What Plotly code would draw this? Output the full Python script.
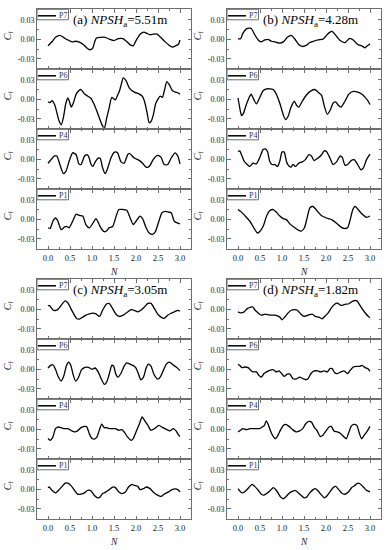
import plotly.graph_objects as go

# ---------------- data ----------------
N_TICKS = [0.0, 0.5, 1.0, 1.5, 2.0, 2.5, 3.0]
CF_TICKS = [-0.03, 0.0, 0.03]
CF_TICK_TEXT = ["-0.03", "0.00", "0.03"]
PROBES = ["P7", "P6", "P4", "P1"]
CASE_LABELS = ["(a)", "(b)", "(c)", "(d)"]
NPSH_VALUES = ["5.51", "4.28", "3.05", "1.82"]

# (a) NPSHa = 5.51 m
A_P7_X = [0, 0.1, 0.17, 0.27, 0.35, 0.45, 0.55, 0.62, 0.7, 0.8, 0.88, 0.95, 1.02, 1.06, 1.1, 1.2, 1.3, 1.4, 1.5, 1.6, 1.7, 1.8, 1.88, 1.94, 2.0, 2.1, 2.18, 2.25, 2.32, 2.4, 2.48, 2.56, 2.65, 2.75, 2.83, 2.9, 2.96, 3.0]
A_P7_Y = [-0.010, -0.003, 0.003, 0.006, 0.003, -0.001, -0.004, -0.003, -0.004, -0.008, -0.013, -0.016, -0.013, -0.004, 0.002, 0.003, 0.003, 0.0, -0.002, 0.001, 0.001, -0.004, -0.009, -0.010, -0.002, 0.008, 0.011, 0.009, 0.007, 0.008, 0.008, 0.003, -0.003, -0.009, -0.012, -0.010, -0.008, -0.001]
A_P6_X = [0, 0.05, 0.09, 0.15, 0.2, 0.25, 0.30, 0.35, 0.40, 0.45, 0.49, 0.53, 0.58, 0.64, 0.70, 0.75, 0.83, 0.9, 0.97, 1.05, 1.12, 1.17, 1.22, 1.28, 1.33, 1.39, 1.45, 1.53, 1.58, 1.62, 1.67, 1.71, 1.77, 1.85, 1.96, 2.08, 2.15, 2.2, 2.25, 2.3, 2.35, 2.4, 2.45, 2.55, 2.6, 2.65, 2.70, 2.76, 2.83, 2.9, 2.95, 3.0]
A_P6_Y = [-0.004, -0.005, -0.002, -0.008, -0.020, -0.033, -0.039, -0.028, -0.008, 0.002, -0.004, -0.012, -0.005, 0.008, 0.013, 0.015, 0.008, 0.005, 0.002, -0.008, -0.020, -0.029, -0.038, -0.045, -0.030, -0.013, 0.003, -0.001, 0.006, 0.012, 0.024, 0.033, 0.029, 0.017, 0.011, 0.008, 0.004, -0.005, -0.020, -0.036, -0.033, -0.022, -0.006, 0.005, 0.003, 0.015, 0.027, 0.022, 0.013, 0.011, 0.010, 0.008]
A_P4_X = [0, 0.04, 0.14, 0.2, 0.27, 0.35, 0.41, 0.48, 0.56, 0.64, 0.70, 0.75, 0.83, 0.88, 0.92, 0.98, 1.02, 1.08, 1.15, 1.19, 1.24, 1.30, 1.36, 1.43, 1.51, 1.58, 1.66, 1.73, 1.81, 1.85, 1.96, 2.08, 2.15, 2.23, 2.30, 2.39, 2.49, 2.57, 2.64, 2.72, 2.80, 2.89, 2.95, 3.0]
A_P4_Y = [-0.006, -0.003, 0.005, 0.005, -0.008, -0.022, -0.018, -0.003, 0.010, 0.007, -0.007, -0.008, 0.005, 0.007, 0.005, -0.008, -0.011, -0.003, 0.002, 0.001, -0.013, -0.022, -0.013, 0.002, 0.011, 0.010, -0.004, -0.006, 0.007, 0.009, 0.002, -0.002, -0.006, -0.012, -0.011, -0.0005, 0.006, 0.003, -0.008, -0.008, 0.002, 0.010, 0.005, -0.007]
A_P1_X = [0, 0.05, 0.11, 0.17, 0.22, 0.30, 0.37, 0.42, 0.48, 0.56, 0.64, 0.71, 0.79, 0.86, 0.94, 1.02, 1.09, 1.15, 1.2, 1.28, 1.33, 1.39, 1.47, 1.55, 1.61, 1.70, 1.79, 1.85, 1.94, 2.0, 2.09, 2.15, 2.23, 2.30, 2.38, 2.44, 2.52, 2.59, 2.67, 2.74, 2.80, 2.87, 2.95, 3.0]
A_P1_Y = [-0.013, -0.014, -0.003, 0.002, -0.002, -0.016, -0.012, -0.011, -0.013, -0.003, 0.008, 0.006, 0.005, -0.008, -0.013, -0.006, 0.001, -0.006, -0.013, -0.019, -0.018, -0.013, -0.011, 0.005, 0.015, 0.015, 0.014, 0.005, -0.008, -0.003, 0.005, 0.001, -0.013, -0.021, -0.023, -0.019, -0.003, 0.010, 0.012, 0.011, 0.010, -0.003, -0.006, -0.007]

# (b) NPSHa = 4.28 m
B_P7_X = [0, 0.06, 0.11, 0.19, 0.27, 0.31, 0.38, 0.46, 0.52, 0.61, 0.68, 0.76, 0.84, 0.95, 1.03, 1.12, 1.21, 1.29, 1.38, 1.46, 1.56, 1.63, 1.71, 1.82, 1.94, 2.01, 2.09, 2.14, 2.20, 2.32, 2.43, 2.54, 2.62, 2.72, 2.81, 2.89, 2.92, 2.98, 3.0]
B_P7_Y = [0.0005, 0.001, 0.009, 0.016, 0.017, 0.016, 0.007, -0.001, -0.004, -0.001, 0.0, -0.003, -0.004, -0.006, -0.004, 0.003, 0.006, 0.0005, -0.008, -0.011, -0.009, -0.005, -0.003, -0.001, 0.0005, 0.006, 0.011, 0.012, 0.008, -0.002, -0.005, 0.0015, -0.001, -0.008, -0.010, -0.013, -0.011, -0.008, -0.007]
B_P6_X = [0, 0.04, 0.08, 0.12, 0.19, 0.27, 0.30, 0.36, 0.42, 0.49, 0.57, 0.65, 0.72, 0.80, 0.87, 0.95, 1.03, 1.08, 1.14, 1.2, 1.28, 1.33, 1.38, 1.46, 1.56, 1.66, 1.75, 1.82, 1.9, 1.96, 2.03, 2.1, 2.16, 2.22, 2.28, 2.34, 2.43, 2.52, 2.62, 2.72, 2.81, 2.89, 2.95, 3.0]
B_P6_Y = [0.002, -0.013, -0.025, -0.022, -0.008, 0.005, 0.008, -0.0005, -0.007, 0.002, 0.013, 0.016, 0.016, 0.015, 0.008, -0.006, -0.024, -0.031, -0.026, -0.013, -0.003, -0.009, -0.012, -0.003, 0.007, 0.013, 0.015, 0.011, 0.006, -0.010, -0.023, -0.016, -0.006, -0.004, -0.009, -0.012, -0.003, 0.008, 0.012, 0.011, 0.008, 0.003, -0.002, -0.008]
B_P4_X = [0, 0.04, 0.08, 0.14, 0.21, 0.27, 0.34, 0.42, 0.49, 0.57, 0.62, 0.67, 0.72, 0.77, 0.84, 0.90, 0.95, 1.0, 1.05, 1.1, 1.14, 1.2, 1.25, 1.31, 1.38, 1.46, 1.53, 1.61, 1.67, 1.73, 1.82, 1.9, 1.96, 2.01, 2.09, 2.16, 2.24, 2.32, 2.37, 2.43, 2.49, 2.57, 2.64, 2.72, 2.79, 2.85, 2.92, 3.0]
B_P4_Y = [0.012, 0.013, 0.007, -0.003, -0.008, -0.011, -0.006, -0.007, 0.002, 0.015, 0.016, 0.012, -0.003, -0.008, -0.008, -0.011, -0.003, 0.011, 0.011, -0.003, -0.009, -0.012, -0.008, -0.011, -0.006, -0.004, -0.0005, 0.007, 0.005, -0.002, 0.002, 0.007, 0.013, 0.012, 0.002, -0.008, -0.004, 0.005, 0.003, -0.009, -0.008, -0.002, -0.0005, -0.008, -0.016, -0.013, -0.0005, 0.008]
B_P1_X = [0, 0.08, 0.15, 0.27, 0.36, 0.44, 0.49, 0.57, 0.65, 0.72, 0.80, 0.87, 0.95, 1.03, 1.1, 1.18, 1.29, 1.38, 1.44, 1.51, 1.57, 1.63, 1.69, 1.75, 1.82, 1.91, 2.01, 2.13, 2.24, 2.34, 2.41, 2.49, 2.55, 2.61, 2.66, 2.73, 2.82, 2.92, 3.0]
B_P1_Y = [0.015, 0.011, 0.006, -0.003, -0.013, -0.021, -0.019, -0.011, 0.005, 0.013, 0.015, 0.011, 0.005, 0.001, -0.0005, -0.007, -0.013, -0.017, -0.018, -0.013, 0.002, 0.017, 0.020, 0.017, 0.011, 0.005, 0.002, -0.0005, -0.006, -0.012, -0.014, -0.013, -0.0005, 0.015, 0.020, 0.015, 0.008, 0.003, 0.005]

# (c) NPSHa = 3.05 m
C_P7_X = [0, 0.03, 0.07, 0.12, 0.18, 0.24, 0.32, 0.39, 0.45, 0.52, 0.60, 0.65, 0.71, 0.79, 0.86, 0.94, 1.02, 1.09, 1.17, 1.24, 1.33, 1.39, 1.47, 1.55, 1.62, 1.71, 1.81, 1.89, 1.96, 2.04, 2.11, 2.19, 2.27, 2.34, 2.42, 2.49, 2.57, 2.64, 2.72, 2.80, 2.87, 2.95, 3.0]
C_P7_Y = [0.005, 0.006, 0.0025, -0.0015, -0.0015, 0.001, 0.008, 0.013, 0.010, 0.001, -0.009, -0.014, -0.015, -0.012, -0.009, -0.007, -0.006, -0.007, -0.011, -0.0015, 0.008, 0.009, 0.001, -0.008, -0.011, -0.009, -0.004, -0.0005, -0.0015, -0.004, -0.0015, 0.0035, 0.009, 0.009, 0.001, -0.007, -0.012, -0.014, -0.009, -0.006, -0.004, -0.0015, -0.003]
C_P6_X = [0, 0.06, 0.11, 0.17, 0.23, 0.30, 0.36, 0.42, 0.47, 0.52, 0.57, 0.63, 0.69, 0.76, 0.84, 0.92, 1.0, 1.07, 1.14, 1.2, 1.28, 1.33, 1.39, 1.45, 1.49, 1.54, 1.59, 1.66, 1.73, 1.79, 1.86, 1.93, 1.99, 2.05, 2.11, 2.17, 2.23, 2.28, 2.34, 2.41, 2.49, 2.55, 2.62, 2.69, 2.76, 2.84, 2.92, 3.0]
C_P6_Y = [0.002, 0.006, 0.007, 0.0, -0.011, -0.018, -0.010, 0.006, 0.011, 0.006, -0.008, -0.018, -0.013, -0.001, 0.003, 0.003, 0.0, 0.002, -0.004, -0.013, -0.023, -0.020, -0.008, 0.006, 0.005, -0.007, -0.012, -0.006, 0.005, 0.010, 0.008, 0.006, 0.003, -0.006, -0.016, -0.012, 0.002, 0.008, 0.005, -0.008, -0.015, -0.012, -0.002, 0.008, 0.011, 0.007, 0.003, -0.002]
C_P4_X = [0, 0.05, 0.11, 0.17, 0.22, 0.30, 0.37, 0.45, 0.52, 0.60, 0.67, 0.75, 0.83, 0.88, 0.94, 1.0, 1.05, 1.11, 1.17, 1.22, 1.28, 1.33, 1.39, 1.45, 1.53, 1.61, 1.68, 1.73, 1.81, 1.89, 1.94, 2.0, 2.08, 2.14, 2.19, 2.27, 2.34, 2.42, 2.52, 2.61, 2.70, 2.77, 2.85, 2.91, 2.97, 3.0]
C_P4_Y = [-0.014, -0.017, -0.012, 0.001, 0.0035, 0.0025, 0.001, 0.001, -0.0015, -0.004, -0.0025, 0.0025, 0.0045, 0.004, -0.007, -0.014, -0.015, -0.012, -0.0005, 0.008, 0.0025, 0.0025, 0.001, 0.001, 0.001, -0.0015, -0.0005, -0.004, -0.012, -0.017, -0.014, -0.004, 0.009, 0.019, 0.014, 0.006, -0.0015, 0.001, 0.006, 0.0025, -0.0005, -0.0025, 0.001, -0.0025, -0.009, -0.011]
C_P1_X = [0, 0.03, 0.09, 0.17, 0.24, 0.32, 0.39, 0.45, 0.52, 0.60, 0.67, 0.75, 0.83, 0.90, 0.98, 1.05, 1.13, 1.18, 1.24, 1.32, 1.39, 1.47, 1.53, 1.61, 1.68, 1.76, 1.83, 1.91, 1.96, 2.04, 2.09, 2.17, 2.24, 2.32, 2.39, 2.49, 2.57, 2.64, 2.74, 2.82, 2.89, 2.95, 3.0]
C_P1_Y = [0.0025, 0.0035, -0.0015, -0.0055, -0.0015, 0.0045, 0.0095, 0.0095, 0.006, -0.0015, -0.0075, -0.0075, -0.0055, -0.0015, -0.0025, -0.009, -0.013, -0.012, -0.0065, -0.004, -0.0005, 0.0035, 0.0025, -0.004, -0.0065, -0.004, 0.0035, 0.0075, 0.006, 0.0045, -0.0005, 0.001, 0.0035, 0.001, -0.004, -0.009, -0.011, -0.0075, -0.004, -0.0005, 0.0005, -0.0005, -0.004]

# (d) NPSHa = 1.82 m
D_P7_X = [0, 0.06, 0.14, 0.21, 0.29, 0.34, 0.39, 0.46, 0.53, 0.62, 0.72, 0.84, 0.95, 1.0, 1.06, 1.14, 1.21, 1.29, 1.35, 1.43, 1.50, 1.59, 1.69, 1.76, 1.84, 1.91, 1.97, 2.05, 2.11, 2.19, 2.26, 2.34, 2.43, 2.52, 2.62, 2.70, 2.75, 2.82, 2.90, 2.98, 3.0]
D_P7_Y = [-0.004, -0.0055, -0.004, 0.001, 0.0035, 0.0035, -0.0015, -0.0055, -0.009, -0.0075, -0.009, -0.009, -0.012, -0.016, -0.012, -0.0055, -0.0015, -0.0005, -0.0015, -0.0075, -0.011, -0.009, -0.0075, -0.011, -0.012, -0.0145, -0.011, -0.0055, 0.001, 0.0075, 0.0095, 0.006, 0.0075, 0.0085, 0.013, 0.013, 0.0085, 0.001, -0.0065, -0.012, -0.013]
D_P6_X = [0, 0.04, 0.09, 0.15, 0.23, 0.29, 0.34, 0.42, 0.47, 0.53, 0.59, 0.65, 0.72, 0.80, 0.87, 0.93, 0.99, 1.05, 1.12, 1.18, 1.25, 1.33, 1.40, 1.48, 1.54, 1.59, 1.66, 1.73, 1.81, 1.88, 1.96, 2.03, 2.09, 2.14, 2.20, 2.26, 2.34, 2.41, 2.49, 2.54, 2.62, 2.70, 2.77, 2.82, 2.89, 2.95, 3.0]
D_P6_Y = [0.0075, 0.006, 0.0025, 0.0035, 0.0025, -0.0015, -0.004, -0.004, -0.009, -0.012, -0.0065, -0.004, -0.0015, -0.0005, -0.004, -0.0025, -0.0065, -0.011, -0.0075, -0.0075, -0.0145, -0.0145, -0.012, -0.0145, -0.016, -0.0145, -0.0065, -0.0025, -0.0025, -0.004, -0.0025, -0.004, 0.001, 0.001, -0.0055, -0.0065, -0.004, -0.0025, -0.0065, -0.0025, 0.0035, 0.0045, 0.0045, 0.006, 0.0025, 0.001, -0.003]
D_P4_X = [0, 0.06, 0.11, 0.19, 0.27, 0.34, 0.42, 0.49, 0.55, 0.60, 0.64, 0.68, 0.74, 0.80, 0.85, 0.91, 0.97, 1.03, 1.08, 1.16, 1.24, 1.32, 1.40, 1.47, 1.54, 1.61, 1.67, 1.73, 1.80, 1.87, 1.93, 2.0, 2.07, 2.12, 2.18, 2.26, 2.33, 2.40, 2.46, 2.51, 2.57, 2.63, 2.70, 2.76, 2.81, 2.87, 2.94, 3.0]
D_P4_Y = [-0.004, -0.0015, 0.001, -0.0005, 0.001, 0.001, 0.001, 0.001, 0.0035, 0.006, 0.013, 0.0085, -0.0025, -0.011, -0.0145, -0.009, -0.0005, 0.006, 0.0075, 0.0045, -0.0005, -0.004, -0.0025, 0.001, 0.0085, 0.012, 0.011, 0.0035, -0.0025, -0.011, -0.009, -0.0025, 0.0035, 0.0045, -0.0025, -0.004, -0.0065, -0.011, -0.0145, -0.0065, 0.0045, 0.0075, 0.006, -0.0065, -0.0145, -0.009, -0.0025, 0.0045]
D_P1_X = [0, 0.06, 0.11, 0.19, 0.27, 0.32, 0.38, 0.46, 0.53, 0.59, 0.67, 0.74, 0.80, 0.85, 0.91, 0.97, 1.03, 1.08, 1.14, 1.21, 1.29, 1.35, 1.43, 1.50, 1.56, 1.63, 1.71, 1.76, 1.82, 1.90, 1.96, 2.01, 2.09, 2.16, 2.22, 2.29, 2.37, 2.43, 2.51, 2.58, 2.66, 2.72, 2.77, 2.85, 2.92, 3.0]
D_P1_Y = [0.001, -0.004, -0.0055, -0.0015, 0.0045, 0.0075, 0.0045, -0.0015, -0.0075, -0.009, -0.0055, -0.0015, 0.0025, 0.0, -0.0055, -0.012, -0.0145, -0.012, -0.0075, -0.004, -0.0015, -0.004, -0.009, -0.013, -0.012, -0.0055, -0.0005, 0.001, -0.0025, -0.009, -0.013, -0.011, -0.004, 0.0025, 0.0045, -0.0005, -0.0065, -0.0075, -0.004, 0.0025, 0.006, 0.0095, 0.0085, 0.0035, -0.0015, -0.004]

SERIES = [
    [(A_P7_X, A_P7_Y), (A_P6_X, A_P6_Y), (A_P4_X, A_P4_Y), (A_P1_X, A_P1_Y)],
    [(B_P7_X, B_P7_Y), (B_P6_X, B_P6_Y), (B_P4_X, B_P4_Y), (B_P1_X, B_P1_Y)],
    [(C_P7_X, C_P7_Y), (C_P6_X, C_P6_Y), (C_P4_X, C_P4_Y), (C_P1_X, C_P1_Y)],
    [(D_P7_X, D_P7_Y), (D_P6_X, D_P6_Y), (D_P4_X, D_P4_Y), (D_P1_X, D_P1_Y)],
]

# ---------------- layout (pixels) ----------------
W, H = 392, 550
PANEL_LEFT = [37, 227, 37, 227]      # left frame edge of each case
PANEL_TOP = [9.3, 9.3, 279.3, 279.3]  # top frame edge of each case
PLOT_W = 154
SUB_H = 60
SERIF = "Liberation Serif, Times New Roman, serif"
FRAME = "#6e6e6e"
TXT = "#222222"


def px(x):
    return x / W


def py(y):
    return 1 - y / H


fig = go.Figure()
annotations = []
shapes = []
layout_axes = {}

k = 0
for p in range(4):
    L = PANEL_LEFT[p]
    T = PANEL_TOP[p]
    for r in range(4):
        k += 1
        top = T + r * SUB_H
        bot = top + SUB_H
        xs, ys = SERIES[p][r]
        suffix = "" if k == 1 else str(k)
        xname, yname = "x" + suffix, "y" + suffix
        fig.add_trace(go.Scatter(
            x=xs, y=ys, mode="lines", name=PROBES[r], showlegend=False,
            line=dict(color="black", width=1.3, shape="spline", smoothing=0.6),
            xaxis=xname, yaxis=yname,
        ))
        layout_axes["xaxis" + suffix] = dict(
            domain=[px(L), px(L + PLOT_W)], anchor=yname,
            range=[-0.25, 3.25], tickmode="array", tickvals=N_TICKS,
            ticktext=[f"{v:.1f}" for v in N_TICKS],
            showticklabels=(r == 3),
            ticks="inside", ticklen=3.5, tickwidth=1, tickcolor=FRAME,
            minor=dict(tickmode="linear", tick0=0, dtick=0.25, ticks="inside",
                       ticklen=2, tickwidth=1, tickcolor=FRAME),
            showline=True, linecolor=FRAME, linewidth=1, mirror="ticks",
            showgrid=False, zeroline=False,
            tickfont=dict(family=SERIF, size=8.5, color=TXT),
        )
        layout_axes["yaxis" + suffix] = dict(
            domain=[py(bot), py(top)], anchor=xname,
            range=[-0.046, 0.046], tickmode="array", tickvals=CF_TICKS,
            ticktext=CF_TICK_TEXT,
            ticks="inside", ticklen=3.5, tickwidth=1, tickcolor=FRAME,
            minor=dict(tickmode="linear", tick0=0, dtick=0.015, ticks="inside",
                       ticklen=2, tickwidth=1, tickcolor=FRAME),
            showline=True, linecolor=FRAME, linewidth=1, mirror="ticks",
            showgrid=False, zeroline=False,
            tickfont=dict(family=SERIF, size=8, color=TXT),
        )
        # y-axis title C_f
        zero_y = (top + bot) / 2
        annotations.append(dict(
            x=px(L - 29), y=py(zero_y - 4), xref="paper", yref="paper",
            text="<i>C</i><sub>f</sub>", textangle=-90, showarrow=False,
            font=dict(family=SERIF, size=10, color=TXT),
            xanchor="center", yanchor="middle",
        ))
        # small legend box with line sample and probe name
        xr, yr = xname + " domain", yname + " domain"
        shapes.append(dict(type="rect", xref=xr, yref=yr,
                           x0=0, x1=31.5 / PLOT_W, y0=1 - 10.5 / SUB_H, y1=1,
                           line=dict(color=FRAME, width=1), fillcolor="white"))
        shapes.append(dict(type="line", xref=xr, yref=yr,
                           x0=1 / PLOT_W, x1=19 / PLOT_W,
                           y0=1 - 6.5 / SUB_H, y1=1 - 6.5 / SUB_H,
                           line=dict(color="black", width=1.5)))
        annotations.append(dict(
            x=20 / PLOT_W, y=1 - 6 / SUB_H, xref=xr, yref=yr,
            text=PROBES[r], showarrow=False, xanchor="left", yanchor="middle",
            font=dict(family=SERIF, size=8, color="#2a3560"),
        ))
    # case title
    annotations.append(dict(
        x=px(L + 83), y=py(T + 11), xref="paper", yref="paper",
        text=f"{CASE_LABELS[p]} <i>NPSH</i><sub>a</sub>={NPSH_VALUES[p]}m",
        showarrow=False, xanchor="center", yanchor="middle",
        font=dict(family=SERIF, size=13, color="black"),
    ))
    # x-axis title N
    annotations.append(dict(
        x=px(L + 77), y=py(T + 4 * SUB_H + 23), xref="paper", yref="paper",
        text="<i>N</i>", showarrow=False, xanchor="center", yanchor="middle",
        font=dict(family=SERIF, size=9.5, color=TXT),
    ))

fig.update_layout(
    width=W, height=H, margin=dict(l=0, r=0, t=0, b=0),
    paper_bgcolor="white", plot_bgcolor="white",
    showlegend=False, annotations=annotations, shapes=shapes,
    **layout_axes,
)

fig.write_html("out.html", config={"displayModeBar": False},
               post_script="document.body.style.margin='0';document.body.style.overflow='hidden';")
